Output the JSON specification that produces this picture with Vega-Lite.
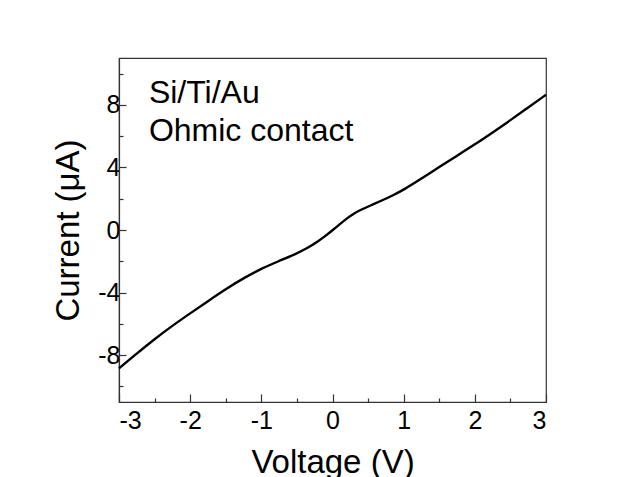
{
  "$schema": "https://vega.github.io/schema/vega-lite/v6.json",
  "width": 427,
  "height": 344,
  "autosize": {"type": "none"},
  "padding": {"left": 119, "top": 58, "right": 73, "bottom": 75},
  "background": "white",
  "config": {
    "view": {"stroke": "#333", "strokeWidth": 1.2},
    "font": "Liberation Sans",
    "axis": {
      "grid": false,
      "domainColor": "#333",
      "domainWidth": 1.2,
      "tickColor": "#333",
      "tickWidth": 1.2,
      "labelFont": "Liberation Sans",
      "titleFont": "Liberation Sans",
      "labelColor": "#000",
      "titleColor": "#000",
      "titleFontWeight": "normal"
    }
  },
  "datasets": {
    "iv": [
      {"voltage": -3.0, "current": -8.85},
      {"voltage": -2.75, "current": -7.9},
      {"voltage": -2.5, "current": -6.97},
      {"voltage": -2.25, "current": -6.12},
      {"voltage": -2.0, "current": -5.33},
      {"voltage": -1.75, "current": -4.55},
      {"voltage": -1.5, "current": -3.78},
      {"voltage": -1.25, "current": -3.08},
      {"voltage": -1.0, "current": -2.47},
      {"voltage": -0.75, "current": -1.98},
      {"voltage": -0.5, "current": -1.5},
      {"voltage": -0.35, "current": -1.15},
      {"voltage": -0.2, "current": -0.72},
      {"voltage": -0.1, "current": -0.38},
      {"voltage": 0.0, "current": -0.02},
      {"voltage": 0.1, "current": 0.36},
      {"voltage": 0.2, "current": 0.74},
      {"voltage": 0.3, "current": 1.05},
      {"voltage": 0.4, "current": 1.3},
      {"voltage": 0.55, "current": 1.6},
      {"voltage": 0.7, "current": 1.9},
      {"voltage": 0.85, "current": 2.22},
      {"voltage": 1.0, "current": 2.57},
      {"voltage": 1.25, "current": 3.28},
      {"voltage": 1.5, "current": 4.03},
      {"voltage": 1.75, "current": 4.75},
      {"voltage": 2.0, "current": 5.47},
      {"voltage": 2.25, "current": 6.24},
      {"voltage": 2.5, "current": 7.02},
      {"voltage": 2.75, "current": 7.84},
      {"voltage": 3.0, "current": 8.65}
    ],
    "notes": [
      {"voltage": -2.58, "current": 8.13, "label": "Si/Ti/Au"},
      {"voltage": -2.58, "current": 5.7, "label": "Ohmic contact"}
    ]
  },
  "layer": [
    {
      "data": {"name": "iv"},
      "mark": {"type": "line", "color": "#000", "strokeWidth": 2.4, "interpolate": "basis"},
      "encoding": {
        "x": {
          "field": "voltage",
          "type": "quantitative",
          "scale": {"domain": [-3, 3], "nice": false, "zero": false},
          "axis": {
            "orient": "bottom",
            "title": "Voltage (V)",
            "values": [-3, -2, -1, 0, 1, 2, 3],
            "tickSize": -8,
            "labelFontSize": 25,
            "titleFontSize": 33,
            "labelPadding": 14,
            "titlePadding": 13,
            "labelExpr": "'' + datum.value"
          }
        },
        "y": {
          "field": "current",
          "type": "quantitative",
          "scale": {"domain": [-11, 11], "nice": false, "zero": false},
          "axis": {
            "orient": "left",
            "title": "Current (μA)",
            "values": [-8, -4, 0, 4, 8],
            "tickSize": -7,
            "labelFontSize": 25,
            "titleFontSize": 33,
            "labelPadding": 6,
            "titlePadding": 12,
            "labelExpr": "'' + datum.value"
          }
        }
      }
    },
    {
      "data": {"name": "notes"},
      "mark": {"type": "text", "align": "left", "baseline": "alphabetic", "fontSize": 32, "font": "Liberation Sans", "color": "#000"},
      "encoding": {
        "x": {
          "field": "voltage",
          "type": "quantitative",
          "scale": {"domain": [-3, 3], "nice": false, "zero": false},
          "axis": {
            "orient": "bottom",
            "title": null,
            "domain": false,
            "labels": false,
            "values": [-2.5, -1.5, -0.5, 0.5, 1.5, 2.5],
            "tickSize": -4
          }
        },
        "y": {
          "field": "current",
          "type": "quantitative",
          "scale": {"domain": [-11, 11], "nice": false, "zero": false},
          "axis": {
            "orient": "left",
            "title": null,
            "domain": false,
            "labels": false,
            "values": [-10, -6, -2, 2, 6, 10],
            "tickSize": -4
          }
        },
        "text": {"field": "label"}
      }
    }
  ],
  "resolve": {"axis": {"x": "independent", "y": "independent"}}
}
